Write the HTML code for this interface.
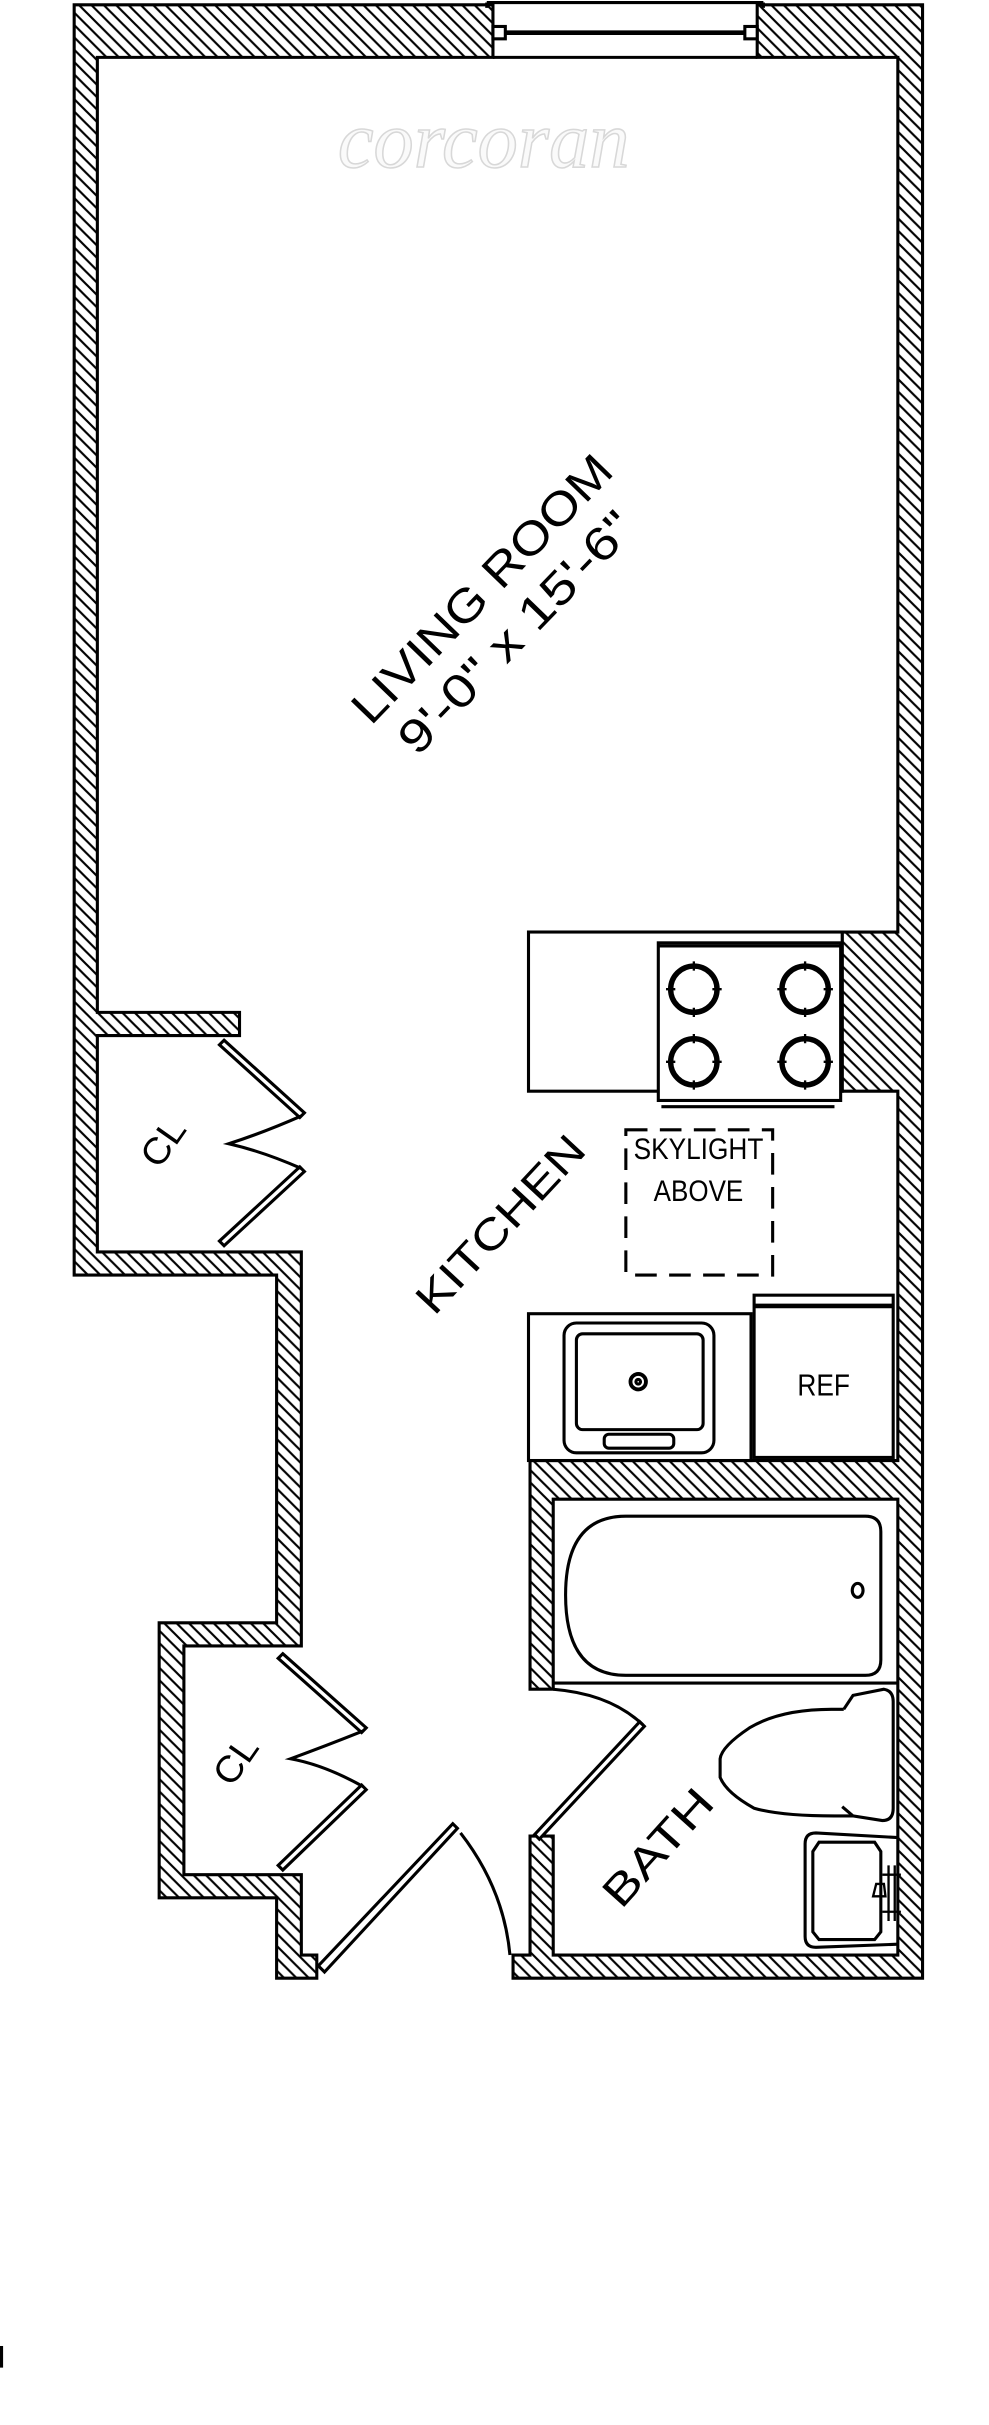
<!DOCTYPE html>
<html><head><meta charset="utf-8"><style>html,body{margin:0;padding:0;background:#fff}svg{display:block}</style></head>
<body>
<svg width="989" height="2425" viewBox="0 0 640 1569" xmlns="http://www.w3.org/2000/svg">
<defs>
<pattern id="h" patternUnits="userSpaceOnUse" width="8" height="8">
<path d="M-1,-1 L9,9 M-5,3 L1,9 M3,-5 L9,1" stroke="#000" stroke-width="1.4"/>
</pattern>
</defs>
<rect width="640" height="1569" fill="#fff"/>
<g stroke="#000" stroke-width="2" stroke-linejoin="miter" fill="none">
<path fill="url(#h)" d="M48,3 L319,3 L319,37 L63,37 L63,655 L155,655 L155,670 L63,670 L63,810 L195,810 L195,1065 L119,1065 L119,1213 L195,1213 L195,1265 L205,1265 L205,1280 L179,1280 L179,1228 L103,1228 L103,1050 L179,1050 L179,825 L48,825 Z"/>
<path fill="url(#h)" d="M490,3 L597,3 L597,1280 L332,1280 L332,1265 L343,1265 L343,1188 L358,1188 L358,1265 L581,1265 L581,970 L358,970 L358,1093 L343,1093 L343,945 L581,945 L581,706 L545,706 L545,603 L581,603 L581,37 L490,37 Z"/>
<path d="M315,1.5 L494,1.5 M315,1.5 L315,5 M494,1.5 L494,5 M319,37 L490,37"/>
<path d="M327,21 L482,21" stroke-width="3"/>
<rect x="319" y="17" width="8" height="8" fill="#fff"/>
<rect x="482" y="17" width="8" height="8" fill="#fff"/>
<rect x="342" y="603" width="203" height="103" fill="#fff"/>
<rect x="426" y="610" width="118" height="102" fill="#fff"/>
<path d="M426,612 L544,612 M428,716 L540,716"/>
<rect x="342" y="850" width="144" height="95"/>
<rect x="365" y="856" width="97" height="84" rx="8"/>
<rect x="373" y="863" width="82" height="62" rx="4"/>
<circle cx="413" cy="894" r="5" stroke-width="2.5"/>
<circle cx="413" cy="894" r="1.5"/>
<rect x="391" y="928" width="45" height="9" rx="3"/>
<rect x="488" y="838" width="90" height="105"/>
<path d="M488,845 L578,845" stroke-width="3"/>
<path d="M358,1089 L581,1089"/>
<path d="M405,981 L560,981 Q570,981 570,991 L570,1074 Q570,1084 560,1084 L405,1084 Q366,1084 366,1032 Q366,981 405,981 Z"/>
<ellipse cx="555" cy="1029" rx="3.5" ry="4.5"/>
<path d="M546,1106 L552,1097 L572,1093 Q578,1094 578,1101 L578,1170 Q578,1178 571,1178 L552,1175 L545,1169"/>
<path d="M546,1106 L538,1106 Q505,1106 485,1118 Q467,1130 466,1138 L466,1150 Q470,1160 488,1170 Q505,1175 540,1175 L552,1175"/>
<path d="M581,1189 L528,1186 Q521,1186 521,1193 L521,1253 Q521,1260 528,1260 L581,1258"/>
<path d="M530,1192 L566,1192 L570,1198 L570,1250 L566,1255 L530,1255 L526,1250 L526,1198 Z"/>
<path d="M575,1207 L575,1243 M579,1207 L579,1243 M571,1213 L583,1213 M571,1237 L583,1237 M565,1227 L573,1227 L572,1219 L567,1219 Z" stroke-width="1.5"/>
<path d="M405,731 L500,731 L500,825 L405,825 Z" stroke-dasharray="14,8"/>
<path d="M145,673 L197,720 L194,723 L142,676 Z" fill="#fff"/>
<path d="M197,758 L145,806 L142,803 L194,755 Z" fill="#fff"/>
<path d="M195,722 Q170,733 148,740 Q170,745 195,756"/>
<path d="M183,1070 L237,1118 L234,1121 L180,1073 Z" fill="#fff"/>
<path d="M237,1158 L183,1210 L180,1207 L234,1155 Z" fill="#fff"/>
<path d="M235,1120 Q210,1130 188,1138 Q210,1142 235,1156"/>
<path d="M417,1117 L349,1190 L346,1187 L414,1114 Z" fill="#fff"/>
<path d="M358,1093 Q395,1096 416,1116"/>
<path d="M296,1183 L210,1276 L206,1272 L293,1180 Z" fill="#fff"/>
<path d="M298,1186 Q326,1222 330,1265"/>
</g>
<g stroke="#000" fill="none">
<g stroke-width="3.5">
<circle cx="449" cy="640" r="15"/><circle cx="521" cy="640" r="15"/>
<circle cx="449" cy="687" r="15"/><circle cx="521" cy="687" r="15"/>
</g>
<g stroke-width="1.5">
<path d="M449,622 v6 M449,652 v6 M431,640 h6 M461,640 h6 M521,622 v6 M521,652 v6 M503,640 h6 M533,640 h6"/>
<path d="M449,669 v6 M449,699 v6 M431,687 h6 M461,687 h6 M521,669 v6 M521,699 v6 M503,687 h6 M533,687 h6"/>
</g>
</g>
<text x="313" y="108" text-anchor="middle" font-family="Liberation Serif, serif" font-style="italic" font-size="52" fill="#fafafa" stroke="#d8d8d8" stroke-width="1">corcoran</text>
<g font-family="Liberation Sans, sans-serif" fill="#000" font-weight="normal">
<text transform="translate(240,470) rotate(-46)" font-size="30" textLength="228" lengthAdjust="spacingAndGlyphs">LIVING ROOM</text>
<text transform="translate(270,490) rotate(-46)" font-size="30" textLength="205" lengthAdjust="spacingAndGlyphs">9'-0" x 15'-6"</text>
<text transform="translate(281,852) rotate(-47)" font-size="28" textLength="146" lengthAdjust="spacingAndGlyphs">KITCHEN</text>
<text transform="translate(402,1236) rotate(-48)" font-size="28" textLength="92" lengthAdjust="spacingAndGlyphs">BATH</text>
<text transform="translate(103,757) rotate(-55)" font-size="24" textLength="32" lengthAdjust="spacingAndGlyphs">CL</text>
<text transform="translate(150,1157) rotate(-55)" font-size="24" textLength="32" lengthAdjust="spacingAndGlyphs">CL</text>
<text x="452" y="750" font-size="19" text-anchor="middle" textLength="84" lengthAdjust="spacingAndGlyphs">SKYLIGHT</text>
<text x="452" y="777" font-size="19" text-anchor="middle" textLength="58" lengthAdjust="spacingAndGlyphs">ABOVE</text>
<text x="533" y="903" font-size="20" text-anchor="middle" textLength="34" lengthAdjust="spacingAndGlyphs">REF</text>
</g>
<rect x="0" y="1518" width="2" height="14" fill="#000"/>
</svg>
</body></html>
